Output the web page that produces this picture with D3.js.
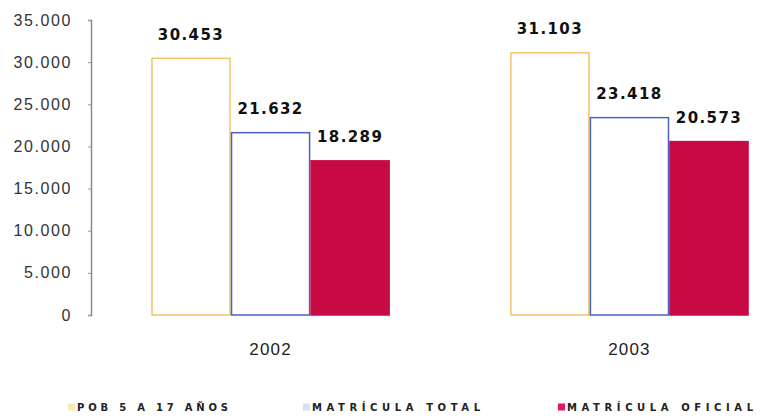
<!DOCTYPE html>
<html>
<head>
<meta charset="utf-8">
<script src="https://cdn.jsdelivr.net/npm/d3@7"></script>
<style>
  html, body { margin: 0; padding: 0; background: #fff; }
  svg { display: block; }
</style>
</head>
<body>
<svg id="chart" width="765" height="419"></svg>
<script>
// Población en edad escolar y matrícula, 2002–2003
const years = ["2002", "2003"];
const seriesNames = ["POB 5 A 17 AÑOS", "MATRÍCULA TOTAL", "MATRÍCULA OFICIAL"];
const pob5a17 = [30453, 31103];
const matriculaTotal = [21632, 23418];
const matriculaOficial = [18289, 20573];
const yTicks = [0, 5000, 10000, 15000, 20000, 25000, 30000, 35000];

const seriesValues = [pob5a17, matriculaTotal, matriculaOficial];
const fills = ["#ffffff", "#ffffff", "#c80a44"];
const strokes = ["#f1c46a", "#4a62c8", "#c80a44"];
const legendMarks = ["#fbeab0", "#d2e2f4", "#e0185e"];

const svg = d3.select("#chart");
const fmt = d3.formatLocale({ decimal: ",", thousands: ".", grouping: [3] }).format(",d");

const y = d3.scaleLinear().domain([0, 35000]).range([315, 20]);
const x0 = d3.scaleBand().domain(years).range([92, 808]).paddingInner(0.335).paddingOuter(0.165);
const x1 = d3.scaleBand().domain(d3.range(seriesNames.length)).range([0, x0.bandwidth()]);

// Y axis
const yAxis = d3.axisLeft(y).tickValues(yTicks).tickSize(3).tickPadding(16)
  .tickFormat(d => fmt(d));
const gy = svg.append("g").attr("transform", "translate(91,0)").call(yAxis);
gy.select(".domain").attr("stroke", "#8a8a8a").attr("stroke-width", 1.5);
gy.selectAll(".tick line").attr("stroke", "#9a9a9a");
gy.selectAll(".tick text")
  .attr("fill", "#333")
  .style("font-family", "'Liberation Sans', Arial, sans-serif")
  .style("font-size", "16px")
  .style("letter-spacing", "1.6px");

// Bars
const groups = svg.append("g").selectAll("g")
  .data(years)
  .join("g")
  .attr("transform", d => `translate(${x0(d)},0)`);

groups.selectAll("rect")
  .data((d, yi) => seriesValues.map((vals, si) => ({ si, v: vals[yi] })))
  .join("rect")
  .attr("x", d => x1(d.si) + 0.75)
  .attr("width", x1.bandwidth() - 1.5)
  .attr("y", d => y(d.v))
  .attr("height", d => y(0) - y(d.v))
  .attr("fill", d => fills[d.si])
  .attr("stroke", d => strokes[d.si])
  .attr("stroke-width", 1.5);

// Value labels
groups.selectAll("text.val")
  .data((d, yi) => seriesValues.map((vals, si) => ({ si, v: vals[yi] })))
  .join("text")
  .attr("class", "val")
  .attr("x", d => x1(d.si) + x1.bandwidth() / 2)
  .attr("y", d => y(d.v) - 23)
  .attr("text-anchor", "middle")
  .attr("dominant-baseline", "middle")
  .attr("fill", "#111")
  .style("font-family", "'DejaVu Sans', Verdana, sans-serif")
  .style("font-weight", "bold")
  .style("font-size", "15px")
  .style("letter-spacing", "1.4px")
  .text(d => fmt(d.v));

// Category labels
svg.append("g").selectAll("text")
  .data(years)
  .join("text")
  .attr("x", d => x0(d) + x0.bandwidth() / 2)
  .attr("y", 351)
  .attr("text-anchor", "middle")
  .attr("dominant-baseline", "middle")
  .attr("fill", "#222")
  .style("font-family", "'Liberation Sans', Arial, sans-serif")
  .style("font-size", "17px")
  .style("letter-spacing", "1.2px")
  .text(d => d);

// Legend
const legendX = [68, 303, 558];
const legendW = [151, 168, 186];
const lg = svg.append("g").selectAll("g")
  .data(seriesNames)
  .join("g")
  .attr("transform", (d, i) => `translate(${legendX[i]},407)`);
lg.append("rect")
  .attr("x", 0).attr("y", -3.5).attr("width", 7).attr("height", 7)
  .attr("fill", (d, i) => legendMarks[i]);
lg.append("text")
  .attr("x", 9)
  .attr("y", 0.5)
  .attr("dominant-baseline", "middle")
  .attr("textLength", (d, i) => legendW[i])
  .attr("lengthAdjust", "spacing")
  .attr("fill", "#222")
  .style("font-family", "'DejaVu Sans', Verdana, sans-serif")
  .style("font-weight", "bold")
  .style("font-size", "10px")
  .text(d => d);
</script>
</body>
</html>
